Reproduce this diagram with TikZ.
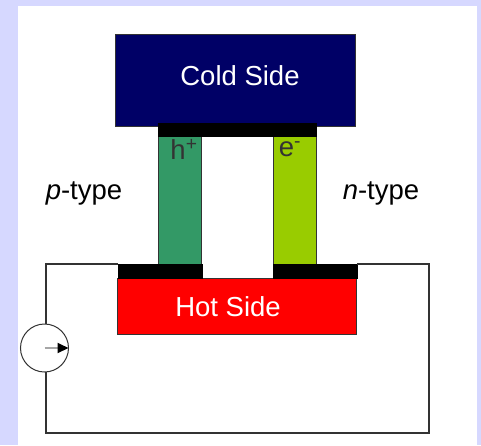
\documentclass[tikz,border=0pt]{standalone}
\usepackage{fontspec}
\setmainfont{Liberation Sans}
\usetikzlibrary{arrows.meta}
\definecolor{pagebg}{HTML}{D6D8FF}
\definecolor{coldblue}{HTML}{000066}
\definecolor{legp}{HTML}{339966}
\definecolor{legn}{HTML}{99CC00}
\definecolor{wire}{HTML}{333333}
\tikzset{
  plate/.style={draw=wire,line width=1pt,inner sep=0pt,outer sep=0pt},
  contact/.style={plate,draw=black,fill=black,line width=.5pt},
  label/.style={font=\fontsize{27.5}{30}\selectfont,inner sep=0pt},
}
\begin{document}
\begin{tikzpicture}[>=stealth,x=1pt,y=-1pt]
  \useasboundingbox (0,0) rectangle (481,445);
  \fill[pagebg] (0,0) rectangle (481,445);
  \fill[white] (18,6) rectangle (477,445);
  \coordinate (TL) at (46,264);
  \coordinate (TR) at (429,264);
  \coordinate (BR) at (429,433);
  \coordinate (BL) at (46,433);
  % plates
  \node[plate,fill=coldblue,minimum width=240pt,minimum height=92pt] (cold) at (235.7,80) {};
  \node[plate,fill=red,minimum width=239pt,minimum height=56pt] (hot) at (237.2,306) {};
  % legs
  \node[plate,fill=legp,minimum width=43pt,minimum height=128pt] (pleg) at (180.2,200) {};
  \node[plate,fill=legn,minimum width=43pt,minimum height=128pt] (nleg) at (294.5,200) {};
  % contacts
  \node[contact,minimum width=158pt,minimum height=13pt] (top) at (237,129.5) {};
  \node[contact,minimum width=84pt,minimum height=14pt] (pbar) at (160,271) {};
  \node[contact,minimum width=84pt,minimum height=14pt] (nbar) at (315,271) {};
  % source
  \node[plate,circle,fill=white,minimum size=48pt] (src) at (44.5,348) {};
  % circuit
  \draw[wire,line width=1.2pt] (src.north -| TL) -- (TL) -- (pbar.north west);
  \draw[wire,line width=1.2pt] (nbar.north east) -- (TR) -- (BR) -- (BL) -- (src.south -| BL);
  \draw[-{Stealth[black,inset=0pt,length=11pt,width=10pt]},gray!70,line width=2pt] (src.center) -- (src.east);
  % labels
  \node[label,white] at (240,76) {Cold Side};
  \node[label,white] at (228,306.5) {Hot Side};
  \node[label] at (84,193) {\textit{p}-type};
  \node[label] at (381,193) {\textit{n}-type};
  \node[label,wire] at (184,149.5) {h\textsuperscript{+}};
  \node[label,wire] at (290,149.5) {e\textsuperscript{-}};
\end{tikzpicture}
\end{document}
